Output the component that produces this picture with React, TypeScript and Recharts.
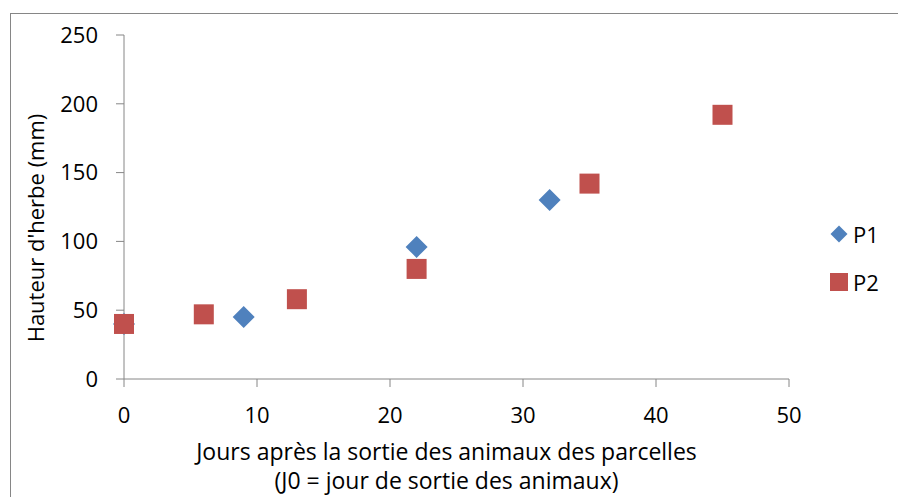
import { ScatterChart, Scatter, XAxis, YAxis, Legend, Label } from 'recharts';

const P1_DAYS = [0, 9, 22, 32];
const P1_HEIGHT = [40, 45, 96, 130];
const P2_DAYS = [0, 6, 13, 22, 35, 45];
const P2_HEIGHT = [40, 47, 58, 80, 142, 192];
const X_TICKS = [0, 10, 20, 30, 40, 50];
const Y_TICKS = [0, 50, 100, 150, 200, 250];

const p1 = P1_DAYS.map((x, i) => ({ x, y: P1_HEIGHT[i] }));
const p2 = P2_DAYS.map((x, i) => ({ x, y: P2_HEIGHT[i] }));

const BLUE = '#4F81BD';
const RED = '#C0504D';
const AXIS = '#868686';
const FONT = '"Open Sans", Lato, sans-serif';
const FS = 22;

const Diamond = ({ cx, cy }: { cx?: number; cy?: number }) => {
  if (cx == null || cy == null) return null;
  const r = 11;
  return <polygon points={`${cx},${cy - r} ${cx + r},${cy} ${cx},${cy + r} ${cx - r},${cy}`} fill={BLUE} />;
};

const Square = ({ cx, cy }: { cx?: number; cy?: number }) => {
  if (cx == null || cy == null) return null;
  return <rect x={cx - 10} y={cy - 10} width={20} height={20} fill={RED} />;
};

const LegendBox = ({ payload }: { payload?: { value: string; color: string }[] }) => (
  <div style={{ fontFamily: FONT, fontSize: FS, color: '#000' }}>
    {(payload || []).map((p, i) => (
      <div key={i} style={{ display: 'flex', alignItems: 'center', height: 48 }}>
        <svg width={18} height={18} style={{ marginRight: 5 }}>
          {i === 0 ? (
            <polygon points="9,0.5 17.5,9 9,17.5 0.5,9" fill={BLUE} />
          ) : (
            <rect x={0} y={0} width={18} height={18} fill={RED} />
          )}
        </svg>
        <span>{p.value}</span>
      </div>
    ))}
  </div>
);

const XTitle = ({ viewBox }: { viewBox?: { x: number; y: number; width: number; height: number } }) => {
  if (!viewBox) return null;
  const cx = viewBox.x + viewBox.width / 2 - 10;
  return (
    <text textAnchor="middle" fontFamily={FONT} fontSize={23} fill="#000">
      <tspan x={cx} y={viewBox.y + 81}>Jours après la sortie des animaux des parcelles</tspan>
      <tspan x={cx} y={viewBox.y + 110}>(J0 = jour de sortie des animaux)</tspan>
    </text>
  );
};

const YTitle = ({ viewBox }: { viewBox?: { x: number; y: number; width: number; height: number } }) => {
  if (!viewBox) return null;
  const cy = viewBox.y + viewBox.height / 2 + 21;
  return (
    <text x={35} y={cy} transform={`rotate(-90, 35, ${cy})`} textAnchor="middle" dominantBaseline="central" fontFamily={FONT} fontSize={22} fill="#000">
      Hauteur d'herbe (mm)
    </text>
  );
};

export default function App() {
  return (
    <div style={{ position: 'absolute', left: 0, top: 0, width: 898, height: 497, overflow: 'hidden', background: '#fff' }}>
      <div style={{ position: 'absolute', left: 10, top: 13, width: 900, height: 520, border: `1px solid ${AXIS}` }} />
      <ScatterChart width={898} height={497} margin={{ top: 35, right: 109, bottom: 78, left: 64 }}>
        <XAxis
          type="number"
          dataKey="x"
          domain={[0, 50]}
          ticks={X_TICKS}
          height={40}
          tickSize={8}
          tickMargin={20}
          stroke={AXIS}
          tick={{ fill: '#000', fontSize: FS, fontFamily: FONT }}
        >
          <Label content={<XTitle />} />
        </XAxis>
        <YAxis
          type="number"
          dataKey="y"
          domain={[0, 250]}
          ticks={Y_TICKS}
          width={60}
          tickSize={8}
          tickMargin={18}
          stroke={AXIS}
          tick={{ fill: '#000', fontSize: FS, fontFamily: FONT }}
        >
          <Label content={<YTitle />} />
        </YAxis>
        <Legend
          layout="horizontal"
          verticalAlign="middle"
          align="center"
          content={<LegendBox />}
          wrapperStyle={{ left: 830, top: 210, width: 70 }}
        />
        <Scatter name="P1" data={p1} fill={BLUE} shape={<Diamond />} isAnimationActive={false} />
        <Scatter name="P2" data={p2} fill={RED} shape={<Square />} isAnimationActive={false} />
      </ScatterChart>
    </div>
  );
}
